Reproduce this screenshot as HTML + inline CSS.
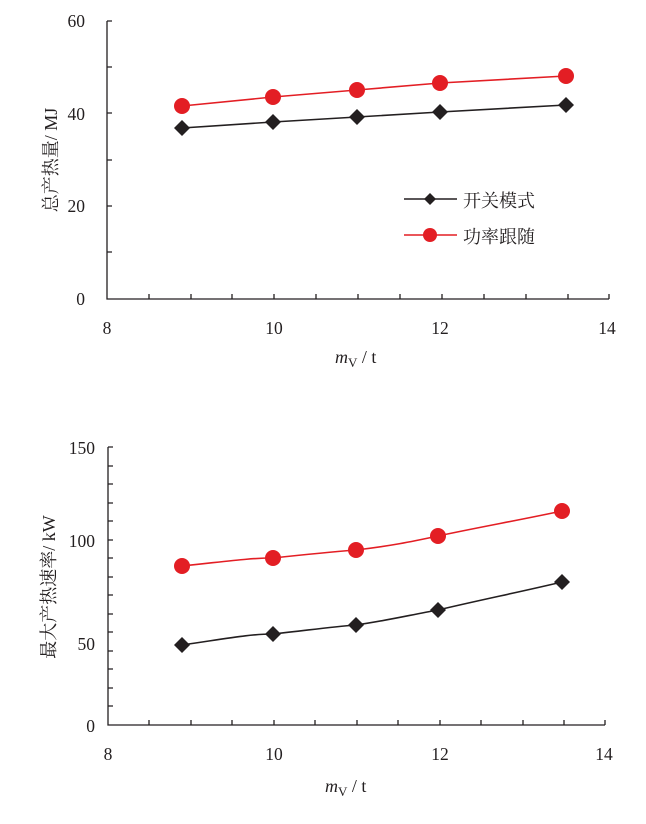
<!DOCTYPE html>
<html><head><meta charset="utf-8"><style>
body{margin:0;background:#fff}
svg text{font-family:"Liberation Serif","Noto Serif CJK SC",serif;fill:#231f20}
</style></head><body>
<svg width="646" height="819" viewBox="0 0 646 819" xmlns="http://www.w3.org/2000/svg">
<g stroke="#231f20" stroke-width="1.3" fill="none">
<path d="M107,21 V299 H609"/>
<path d="M107,21h5M107,67h5M107,113h5M107,160h5M107,206h5M107,252h5"/>
<path d="M149,299v-5M191,299v-5M232,299v-5M274,299v-5M316,299v-5M358,299v-5M400,299v-5M442,299v-5M484,299v-5M526,299v-5M568,299v-5M609,299v-5"/>
<path d="M108,447 V725 H605"/>
<path d="M108,447h5M108,466h5M108,484h5M108,503h5M108,521h5M108,540h5M108,558h5M108,577h5M108,595h5M108,614h5M108,632h5M108,651h5M108,669h5M108,688h5M108,706h5"/>
<path d="M149,725v-5M191,725v-5M232,725v-5M274,725v-5M315,725v-5M357,725v-5M398,725v-5M440,725v-5M481,725v-5M523,725v-5M564,725v-5M605,725v-5"/>
</g>
<g font-size="17.5" text-anchor="end">
<text x="85" y="27">60</text><text x="85" y="120">40</text><text x="85" y="212">20</text><text x="85" y="305">0</text>
<text x="95" y="454">150</text><text x="95" y="547">100</text><text x="95" y="650">50</text><text x="95" y="732">0</text>
</g>
<g font-size="17.5" text-anchor="middle">
<text x="107" y="334">8</text><text x="274" y="334">10</text><text x="440" y="334">12</text><text x="607" y="334">14</text>
<text x="108" y="760">8</text><text x="274" y="760">10</text><text x="440" y="760">12</text><text x="604" y="760">14</text>
</g>
<text x="335" y="363" font-size="18"><tspan font-style="italic">m</tspan><tspan font-size="13" dy="4">V</tspan><tspan dy="-4"> / t</tspan></text>
<text x="325" y="792" font-size="18"><tspan font-style="italic">m</tspan><tspan font-size="13" dy="4">V</tspan><tspan dy="-4"> / t</tspan></text>
<text transform="translate(57,160) rotate(-90)" font-size="18" text-anchor="middle">总产热量/ MJ</text>
<text transform="translate(55,587) rotate(-90)" font-size="18" text-anchor="middle">最大产热速率/ kW</text>
<g fill="none" stroke-width="1.6">
<path stroke="#231f20" d="M182,128 L273,122 L357,117 L440,112 L566,105"/>
<path stroke="#e31e24" d="M182,106 L273,97 L357,90 L440,83 L566,76"/>
<path stroke="#231f20" d="M182,645 C230,638 250,634 273,634 C310,630 330,627 356,625 C390,620 410,615 438,610 C480,600 520,592 562,582"/>
<path stroke="#e31e24" d="M182,566 C230,561 250,558 273,558 C310,554 330,552 356,550 C390,546 410,542 438,536 C480,527 520,520 562,511"/>
<path stroke="#231f20" d="M404,199H457"/>
<path stroke="#e31e24" d="M404,235H457"/>
</g>
<g fill="#231f20">
<path d="M182,120l8,8l-8,8l-8-8z"/><path d="M273,114l8,8l-8,8l-8-8z"/><path d="M357,109l8,8l-8,8l-8-8z"/><path d="M440,104l8,8l-8,8l-8-8z"/><path d="M566,97l8,8l-8,8l-8-8z"/>
<path d="M182,637l8,8l-8,8l-8-8z"/><path d="M273,626l8,8l-8,8l-8-8z"/><path d="M356,617l8,8l-8,8l-8-8z"/><path d="M438,602l8,8l-8,8l-8-8z"/><path d="M562,574l8,8l-8,8l-8-8z"/>
<path d="M430,193l6,6l-6,6l-6-6z"/>
</g>
<g fill="#e31e24">
<circle cx="182" cy="106" r="8"/><circle cx="273" cy="97" r="8"/><circle cx="357" cy="90" r="8"/><circle cx="440" cy="83" r="8"/><circle cx="566" cy="76" r="8"/>
<circle cx="182" cy="566" r="8"/><circle cx="273" cy="558" r="8"/><circle cx="356" cy="550" r="8"/><circle cx="438" cy="536" r="8"/><circle cx="562" cy="511" r="8"/>
<circle cx="430" cy="235" r="7"/>
</g>
<text x="463" y="207" font-size="18">开关模式</text>
<text x="463" y="243" font-size="18">功率跟随</text>
</svg>
</body></html>
